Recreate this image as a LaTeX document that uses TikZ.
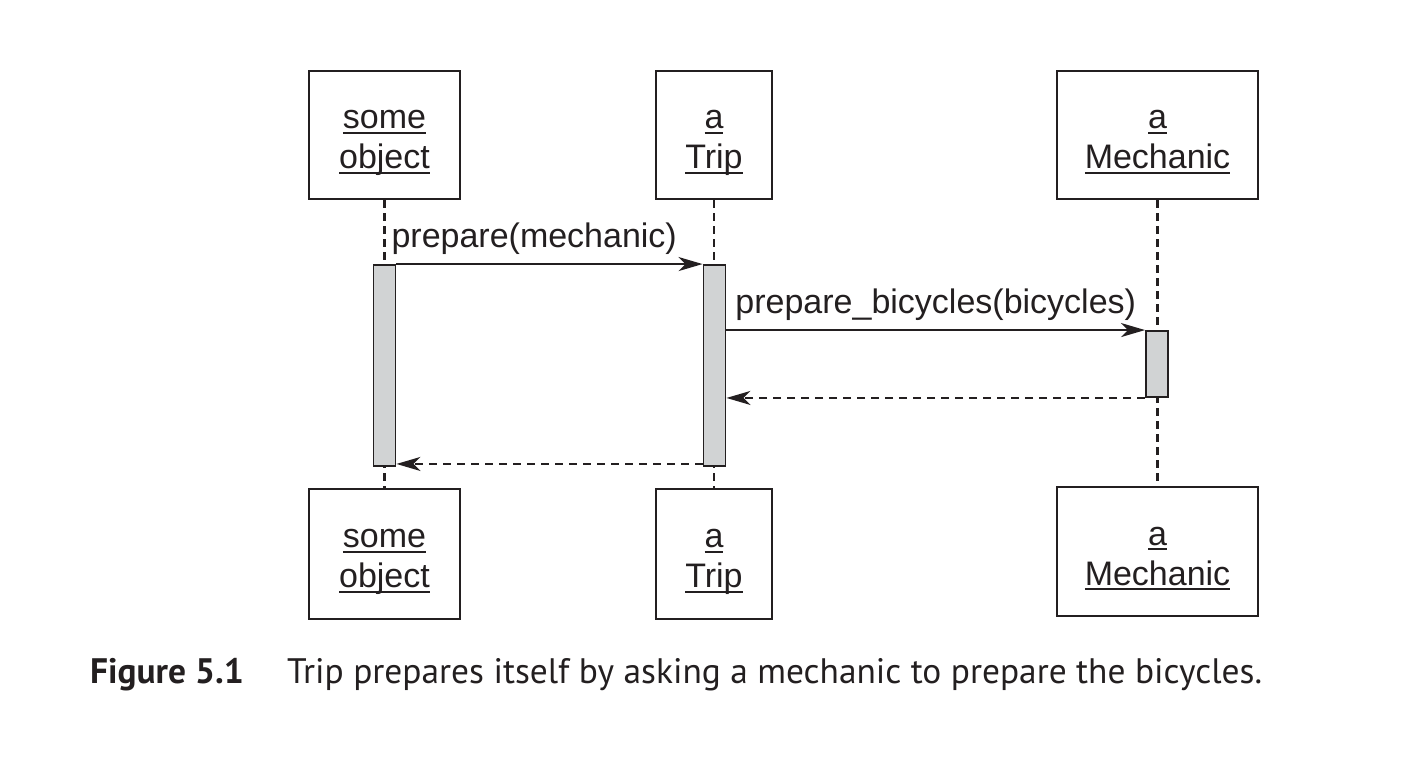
\documentclass[tikz,border=0pt]{standalone}
\usepackage{fontspec}
\setmainfont{Liberation Sans}
\newfontfamily\capfont{PT Sans}
\usetikzlibrary{arrows.meta}
\definecolor{ink}{HTML}{231F20}
\definecolor{barfill}{HTML}{D1D3D4}
\newcommand{\uword}[1]{\leavevmode\sbox0{#1}\rlap{\rule[-5pt]{\wd0}{1.6pt}}\usebox0}
\newcommand{\objlabel}[2]{\rule{0pt}{35pt}\uword{#1}\\\uword{#2}\rule[-8pt]{0pt}{8pt}}

\begin{document}
\begin{tikzpicture}[x=1pt,y=-1pt,
    obj/.style={draw=ink, line width=2pt, align=center, inner sep=0pt, text=ink,
      font=\fontsize{34}{40}\selectfont},
    actbar/.style={draw=ink, line width=1.9pt, fill=barfill, minimum width=22pt, inner sep=0pt},
    life/.style={ink, line width=2.2pt, dash pattern=on 8pt off 5pt},
    call/.style={ink, line width=2.1pt, -{Stealth[length=24pt,width=14pt,inset=7pt]}},
    reply/.style={call, dash pattern=on 8pt off 6pt},
    msg/.style={text=ink, anchor=base, yshift=17pt, inner sep=0pt,
      font=\fontsize{34}{40}\selectfont}]
    \useasboundingbox (0,0) rectangle (1418,774);

    % Objects, top and bottom
    \node[obj, minimum width=151pt, minimum height=128pt] (objtop) at (384.5,135) {\objlabel{some}{object}};
    \node[obj, minimum width=116pt, minimum height=128pt] (triptop) at (714,135) {\objlabel{a}{Trip}};
    \node[obj, minimum width=201pt, minimum height=128pt] (mechtop) at (1157.5,135) {\objlabel{a}{Mechanic}};
    \node[obj, minimum width=151pt, minimum height=130pt] (objbot) at (384.5,554) {\objlabel{some}{object}};
    \node[obj, minimum width=116pt, minimum height=130pt] (tripbot) at (714,554) {\objlabel{a}{Trip}};
    \node[obj, minimum width=201pt, minimum height=129pt] (mechbot) at (1157.5,551.5) {\objlabel{a}{Mechanic}};

    % Lifelines
    \draw[life] (objtop) -- (objbot);
    \draw[life] (triptop) -- (tripbot);
    \draw[life] (mechtop) -- (mechbot);

    % Activations
    \node[actbar, minimum height=201pt] (objbar) at (384.5,365.5) {};
    \node[actbar, minimum height=201pt] (tripbar) at (714.5,365.5) {};
    \node[actbar, minimum height=66pt] (mechbar) at (1157,364) {};

    % Messages
    \draw[call] (objbar.north east) -- node[msg, pos=0.45] {prepare(mechanic)} (tripbar.north west);
    \draw[call] (tripbar.east |- mechbar.north) -- node[msg] {prepare\_bicycles(bicycles)} (mechbar.north west);
    \draw[reply] (mechbar.south west) -- (tripbar.east |- mechbar.south);
    \draw[reply] ([yshift=3pt]tripbar.south west) -- ([yshift=3pt]objbar.south east);

    % Caption
    \node[anchor=base west, inner sep=0pt, text=ink, font=\capfont\bfseries\fontsize{35.4}{40}\selectfont]
      (fignum) at (90,683) {Figure 5.1};
    \node[anchor=base west, inner sep=0pt, text=ink, font=\capfont\fontsize{35.4}{40}\selectfont]
      (figcap) at (287,683) {Trip prepares itself by asking a mechanic to prepare the bicycles.};
\end{tikzpicture}
\end{document}
